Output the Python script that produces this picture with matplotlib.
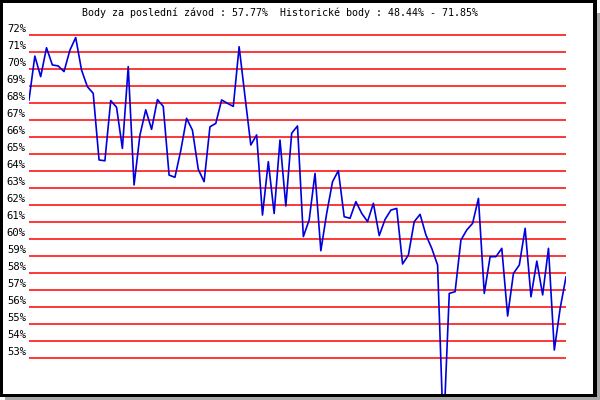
import matplotlib
matplotlib.use('Agg')
import matplotlib.pyplot as plt
from matplotlib.patches import Rectangle

# points per race (percent)
points = [68.18, 70.76, 69.55, 71.25, 70.24, 70.18, 69.85, 71.10, 71.85, 69.94,
          68.96, 68.57, 64.65, 64.60, 68.14, 67.75, 65.33, 70.14, 63.18, 66.10,
          67.60, 66.45, 68.20, 67.80, 63.76, 63.63, 65.20, 67.10, 66.40, 64.10,
          63.37, 66.60, 66.80, 68.18, 67.98, 67.80, 71.31, 68.40, 65.53, 66.12,
          61.41, 64.55, 61.50, 65.82, 61.94, 66.22, 66.65, 60.14, 61.12, 63.86,
          59.31, 61.51, 63.37, 64.02, 61.31, 61.22, 62.20, 61.51, 61.02, 62.10,
          60.20, 61.15, 61.70, 61.80, 58.53, 59.06, 61.02, 61.45, 60.24, 59.45,
          58.47, 48.44, 56.80, 56.90, 59.94, 60.53, 60.92, 62.39, 56.80, 58.96,
          58.96, 59.45, 55.47, 57.98, 58.47, 60.63, 56.60, 58.70, 56.71, 59.45,
          53.47, 55.92, 57.77]
levels = list(range(53, 73))
last_pct = '57.77%'
hist_min = '48.44%'
hist_max = '71.85%'
title = f'Body za poslední závod : {last_pct}  Historické body : {hist_min} - {hist_max}'

W, H = 600, 400
fig = plt.figure(figsize=(6, 4), dpi=100, facecolor='white')

def box(x0, y0, x1, y1, color, z):
    # pixel box measured from top-left corner
    r = Rectangle((x0 / W, 1 - y1 / H), (x1 - x0) / W, (y1 - y0) / H,
                  transform=fig.transFigure, facecolor=color, edgecolor='none',
                  zorder=z)
    fig.patches.append(r)

# shadow, black frame, white inside
box(596.7, 13, 600, 400, '#a8a8a8', -3)
box(5, 396.7, 600, 400, '#a8a8a8', -3)
box(0, 0, 596.7, 396.7, 'black', -2)
box(3, 3, 593, 394, 'white', -1)

# 72% sits at y=35 px, 17 px per percent
left, right, top, bottom = 29, 566, 30, 394
px_per_pct = 17.0
ax = fig.add_axes([left / W, 1 - bottom / H, (right - left) / W, (bottom - top) / H])
ax.patch.set_visible(False)
ax.set_ylim(72 - (bottom - 35) / px_per_pct, 72 + (35 - top) / px_per_pct)
ax.set_xlim(0, len(points) - 1)

for v in levels:
    ax.axhline(v, color='#ff0000', linewidth=1.1, zorder=1)
    ax.text(-0.0056, v + 0.05, f'{v}%', transform=ax.get_yaxis_transform(),
            ha='right', va='bottom', family='DejaVu Sans Mono', fontsize=7.6)

ax.plot(range(len(points)), points, color='#0000dd', linewidth=1.2, zorder=2)

ax.set_xticks([])
ax.set_yticks([])
for s in ax.spines.values():
    s.set_visible(False)

fig.text(280 / W, 1 - 13 / H, title, ha='center', va='center',
         family='DejaVu Sans Mono', fontsize=7.2)

plt.savefig('out.png', dpi=100)
